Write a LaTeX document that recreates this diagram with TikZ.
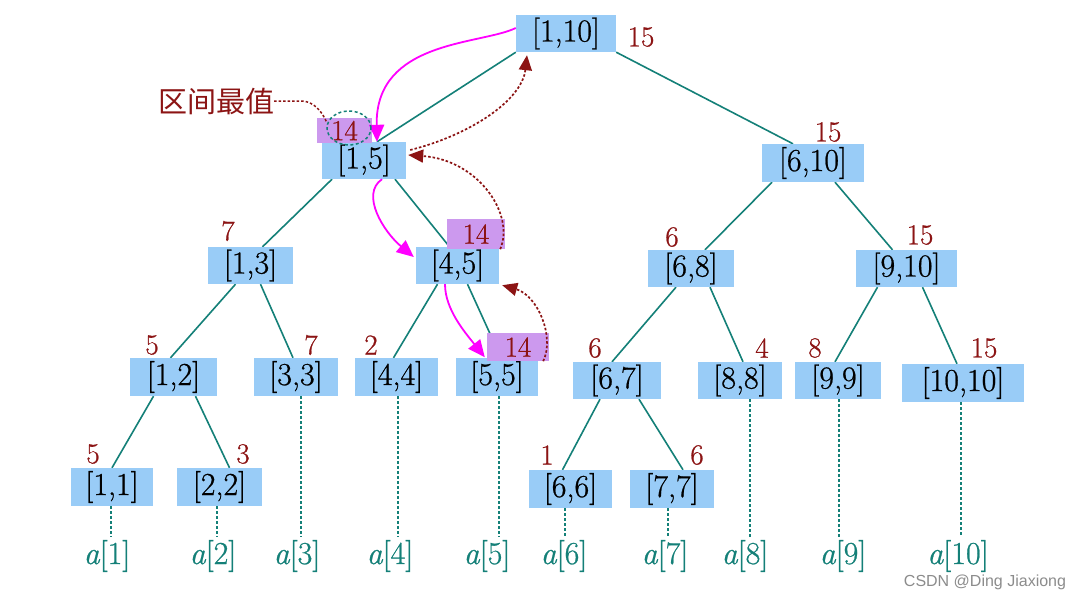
\documentclass[tikz,border=0pt]{standalone}
\usepackage{fontspec}
\newfontfamily\cjk{Noto Sans CJK SC}
\newfontfamily\wmfont{Liberation Sans}
\newfontfamily\heavylm{Latin Modern Roman}[FakeBold=0.7]
\usetikzlibrary{arrows.meta}
\definecolor{boxblue}{RGB}{153,204,247}
\definecolor{hlpurple}{RGB}{204,153,238}
\definecolor{treeteal}{RGB}{20,128,120}
\definecolor{dred}{RGB}{140,20,20}
\definecolor{pathmag}{RGB}{255,0,255}
\pgfdeclarelayer{bg}
\pgfdeclarelayer{paper}
\pgfsetlayers{paper,bg,main}
\tikzset{
  seg/.style={fill=boxblue, minimum height=37pt, inner sep=0pt, font=\heavylm\fontsize{32}{34}\selectfont},
  val/.style={text=dred, inner sep=0pt, font=\heavylm\fontsize{29}{31}\selectfont},
  hl/.style={fill=hlpurple, inner sep=0pt, text=dred, font=\heavylm\fontsize{29}{31}\selectfont},
  treeedge/.style={draw=treeteal, line width=1.6pt},
  leafline/.style={draw=treeteal, line width=2.4pt, dash pattern=on 3pt off 2pt},
  elem/.style={text=treeteal, inner sep=0pt, font=\heavylm\fontsize{32}{34}\selectfont},
  querypath/.style={draw=pathmag, line width=1.8pt, -{Triangle[length=17pt,width=15pt]}},
  backpath/.style={draw=dred, line width=1.7pt, dash pattern=on 2.5pt off 2pt, -{Triangle[length=15pt,width=13pt]}},
}
\begin{document}
\begin{tikzpicture}[x=1pt,y=-1pt]
\begin{pgfonlayer}{paper}
\fill[white] (0,0) rectangle (1082,592);
\end{pgfonlayer}
\useasboundingbox (0,0) rectangle (1082,592);
% segment nodes
\node[seg, minimum width=100pt] (n110) at (566,33.5) {[1,10]};
\node[seg, minimum width=84pt] (n15) at (364,160.5) {[1,5]};
\node[seg, minimum width=102pt, minimum height=38pt] (n610) at (813,163) {[6,10]};
\node[seg, minimum width=85pt] (n13) at (250.5,265.5) {[1,3]};
\node[seg, minimum width=83pt] (n45) at (457.5,265.5) {[4,5]};
\node[seg, minimum width=86pt] (n68) at (691,268.5) {[6,8]};
\node[seg, minimum width=101pt] (n910) at (906.5,268.5) {[9,10]};
\node[seg, minimum width=87pt, minimum height=38pt] (n12) at (173.5,377) {[1,2]};
\node[seg, minimum width=84pt, minimum height=38pt] (n33) at (296,377) {[3,3]};
\node[seg, minimum width=83pt, minimum height=38pt] (n44) at (396.5,377) {[4,4]};
\node[seg, minimum width=82pt, minimum height=38pt] (n55) at (497,377) {[5,5]};
\node[seg, minimum width=88pt] (n67) at (617,380.5) {[6,7]};
\node[seg, minimum width=84pt] (n88) at (740,380.5) {[8,8]};
\node[seg, minimum width=86pt] (n99) at (838,380.5) {[9,9]};
\node[seg, minimum width=122pt, minimum height=38pt] (n1010) at (963,383) {[10,10]};
\node[seg, minimum width=82pt, minimum height=38pt] (n11) at (112,487) {[1,1]};
\node[seg, minimum width=85pt, minimum height=38pt] (n22) at (219.5,487) {[2,2]};
\node[seg, minimum width=83pt, minimum height=38pt] (n66) at (570.5,489) {[6,6]};
\node[seg, minimum width=84pt, minimum height=38pt] (n77) at (672,489) {[7,7]};
% highlighted maxima
\node[hl, minimum width=55pt, minimum height=25pt] (p15) at (344.5,130.5) {14};
\node[hl, minimum width=58pt, minimum height=30pt] (p45) at (476,234) {14};
\node[hl, minimum width=62pt, minimum height=28pt] (p55) at (518,347) {14};
% values
\node[val] (v110) at (641,37) {15};
\node[val] (v610) at (828,132) {15};
\node[val] (v13) at (228,231) {7};
\node[val] (v68) at (672,237) {6};
\node[val] (v910) at (920,235) {15};
\node[val] (v12) at (152,345) {5};
\node[val] (v33) at (311,345) {7};
\node[val] (v44) at (371,345) {2};
\node[val] (v67) at (595,348) {6};
\node[val] (v88) at (762,348) {4};
\node[val] (v99) at (815,348) {8};
\node[val] (v1010) at (984,348) {15};
\node[val] (v11) at (93,454) {5};
\node[val] (v22) at (243,454) {3};
\node[val] (v66) at (547,455) {1};
\node[val] (v77) at (697,455) {6};
% array elements
\node[elem] (a1) at (107,556) {\itshape a\upshape[1]};
\node[elem] (a2) at (213,556) {\itshape a\upshape[2]};
\node[elem] (a3) at (297,556) {\itshape a\upshape[3]};
\node[elem] (a4) at (390,556) {\itshape a\upshape[4]};
\node[elem] (a5) at (487,556) {\itshape a\upshape[5]};
\node[elem] (a6) at (564,556) {\itshape a\upshape[6]};
\node[elem] (a7) at (665,556) {\itshape a\upshape[7]};
\node[elem] (a8) at (745,556) {\itshape a\upshape[8]};
\node[elem] (a9) at (843,556) {\itshape a\upshape[9]};
\node[elem] (a10) at (958,556) {\itshape a\upshape[10]};
% label
\node[text=dred, inner sep=0pt, font=\cjk\fontsize{29}{31}\selectfont] (lbl) at (216,101) {区间最值};
\node[text=black!45, inner sep=0pt, font=\wmfont\fontsize{16}{18}\selectfont] (wm) at (985,582) {CSDN @Ding Jiaxiong};
\coordinate (cl) at (327,123);

\begin{pgfonlayer}{bg}
\draw[treeedge] (n110.south west) -- ([xshift=13pt]n15.north);
\draw[treeedge] (n110.south east) -- ([xshift=-20pt]n610.north);
\draw[treeedge] ([xshift=-32pt]n15.south) -- ([xshift=12pt]n13.north);
\draw[treeedge] ([xshift=31pt]n15.south) -- ([xshift=-8pt]n45.north);
\draw[treeedge] ([xshift=-15pt]n13.south) -- ([xshift=-3pt]n12.north);
\draw[treeedge] ([xshift=10pt]n13.south) -- ([xshift=-3pt]n33.north);
\draw[treeedge] ([xshift=-20pt]n45.south) -- ([xshift=-3pt]n44.north);
\draw[treeedge] ([xshift=10pt]n45.south) -- ([xshift=4pt]n55.north);
\draw[treeedge] ([xshift=-41pt]n610.south) -- ([xshift=14pt]n68.north);
\draw[treeedge] ([xshift=22pt]n610.south) -- ([xshift=-14pt]n910.north);
\draw[treeedge] ([xshift=-15pt]n68.south) -- ([xshift=-5pt]n67.north);
\draw[treeedge] ([xshift=19pt]n68.south) -- ([xshift=3pt]n88.north);
\draw[treeedge] ([xshift=-29pt]n910.south) -- ([xshift=-3pt]n99.north);
\draw[treeedge] ([xshift=16pt]n910.south) -- ([xshift=-6pt]n1010.north);
\draw[treeedge] ([xshift=-20pt]n12.south) -- ([xshift=0pt]n11.north);
\draw[treeedge] ([xshift=22pt]n12.south) -- ([xshift=10pt]n22.north);
\draw[treeedge] ([xshift=-17pt]n67.south) -- ([xshift=-8pt]n66.north);
\draw[treeedge] ([xshift=22pt]n67.south) -- ([xshift=11pt]n77.north);
% leaf links
\draw[leafline] ([xshift=-1pt]n11.south) -- ([xshift=-1pt,yshift=3pt]n11.south |- a1.north);
\draw[leafline] ([xshift=-2.5pt]n22.south) -- ([xshift=-2.5pt,yshift=3pt]n22.south |- a2.north);
\draw[leafline] ([xshift=5pt]n33.south) -- ([xshift=5pt,yshift=3pt]n33.south |- a3.north);
\draw[leafline] ([xshift=1.5pt]n44.south) -- ([xshift=1.5pt,yshift=3pt]n44.south |- a4.north);
\draw[leafline] ([xshift=2pt]n55.south) -- ([xshift=2pt,yshift=3pt]n55.south |- a5.north);
\draw[leafline] ([xshift=-5.5pt]n66.south) -- ([xshift=-5.5pt,yshift=3pt]n66.south |- a6.north);
\draw[leafline] ([xshift=-4pt]n77.south) -- ([xshift=-4pt,yshift=3pt]n77.south |- a7.north);
\draw[leafline] ([xshift=10pt]n88.south) -- ([xshift=10pt,yshift=3pt]n88.south |- a8.north);
\draw[leafline] ([xshift=1pt]n99.south) -- ([xshift=1pt,yshift=3pt]n99.south |- a9.north);
\draw[leafline] ([xshift=-2pt]n1010.south) -- ([xshift=-2pt,yshift=3pt]n1010.south |- a10.north);
\end{pgfonlayer}

% query paths
\draw[querypath] ([yshift=5.5pt]n110.west) .. controls +(-35,17) and +(-2,-102) .. ([xshift=13pt]n15.north);
\draw[querypath] ([xshift=18pt]n15.south) .. controls +(-22,15) and +(-30,-25) .. ([xshift=-2pt,yshift=8.5pt]n45.west);
\draw[querypath] ([xshift=-12.5pt]n45.south) .. controls +(0,25) and +(-20,-25) .. ([xshift=-2pt,yshift=4pt]p55.south west);
% return paths
\draw[backpath] ([xshift=-6pt]p55.south east) .. controls +(12,-25) and +(35,10) .. ([xshift=3pt,yshift=-1pt]n45.south east);
\draw[backpath] ([xshift=-5pt]p45.south east) .. controls +(15,-35) and +(70,5) .. ([xshift=2pt,yshift=5.5pt]n15.east);
\draw[backpath] ([xshift=4pt,yshift=10.5pt]n15.east) .. controls +(60,-15) and +(-5,45) .. ([xshift=-39pt,yshift=-3pt]n110.south);
% annotation
\draw[draw=dred, line width=1.5pt, dash pattern=on 2.5pt off 2pt] (lbl.east) -- ++(27,0) .. controls +(12,0) and +(-5,-12) .. (cl);
\draw[draw=treeteal, line width=1.5pt, dash pattern=on 3pt off 2.5pt] ([xshift=4.5pt,yshift=2.5pt]p15.center) ellipse [x radius=22pt, y radius=17pt];
\end{tikzpicture}
\end{document}
